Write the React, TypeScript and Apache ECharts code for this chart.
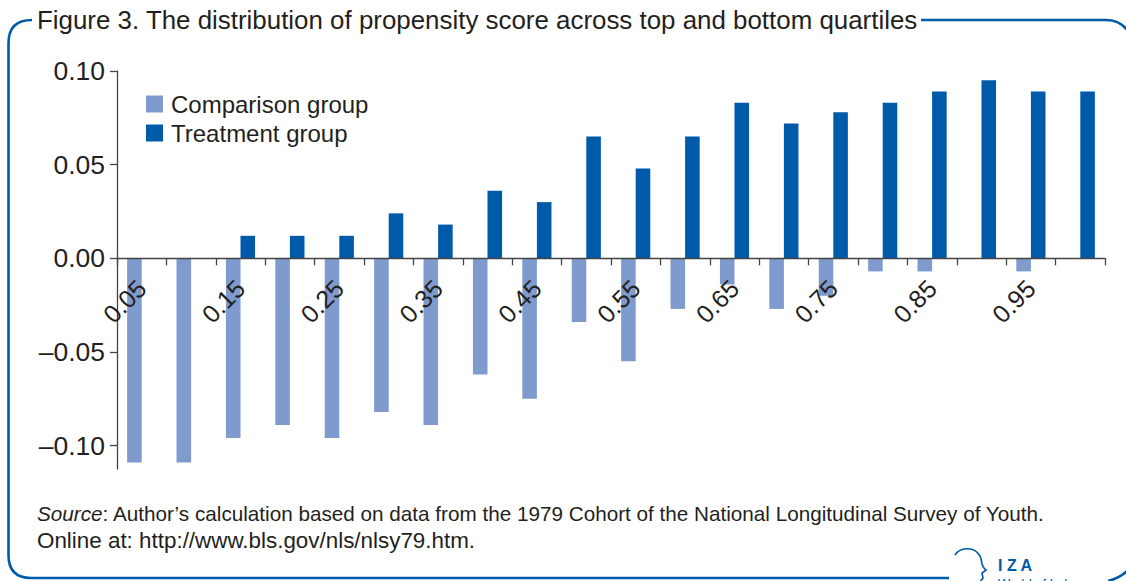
import { useEffect, useRef } from 'react';
import * as echarts from 'echarts';

const categories = ['0.05', '0.10', '0.15', '0.20', '0.25', '0.30', '0.35', '0.40', '0.45', '0.50',
  '0.55', '0.60', '0.65', '0.70', '0.75', '0.80', '0.85', '0.90', '0.95', '1.00'];
const comparisonGroup = [-0.109, -0.109, -0.096, -0.089, -0.096, -0.082, -0.089, -0.062, -0.075, -0.034,
  -0.055, -0.027, -0.014, -0.027, -0.020, -0.007, -0.007, 0, -0.007, 0];
const treatmentGroup = [0, 0, 0.012, 0.012, 0.012, 0.024, 0.018, 0.036, 0.030, 0.065,
  0.048, 0.065, 0.083, 0.072, 0.078, 0.083, 0.089, 0.095, 0.089, 0.089];
const yTickValues = [-0.1, -0.05, 0, 0.05, 0.1];

const seriesNames = ['Comparison group', 'Treatment group'];
const titleText = 'Figure 3. The distribution of propensity score across top and bottom quartiles';
const sourceLabel = 'Source';
const sourceRest = ': Author\u2019s calculation based on data from the 1979 Cohort of the National Longitudinal Survey of Youth.';
const sourceLine2 = 'Online at: http://www.bls.gov/nls/nlsy79.htm.';

const FONT = '"Liberation Sans", Arial, sans-serif';
const BLUE = '#005aaa';
const LIGHT = '#7f9acc';
const TEXT = '#231f20';

const framePath =
  'M 32 20 Q 8.5 20 8.5 43 L 8.5 555 Q 8.5 578 31 578 L 949 578 ' +
  'M 921 20 L 1106 20 Q 1124 20 1132 38 ' +
  'M 1108 581 Q 1122 578 1132 566';
const headPath =
  'M 955 555 C 959 548 974 545 980 556 C 983 562 980 566 986 570 L 982 573 L 983 578 L 980 582';

let registered = false;
function registerShapes() {
  if (registered) return;
  registered = true;
  echarts.graphic.registerShape('frameShape', echarts.graphic.extendPath(framePath, {}) as any);
  echarts.graphic.registerShape('headShape', echarts.graphic.extendPath(headPath, {}) as any);
}

function fmt(v: number) {
  const s = Math.abs(v).toFixed(2);
  return v < -1e-9 ? '\u2013' + s : s;
}

export default function App() {
  const ref = useRef<HTMLDivElement>(null);
  useEffect(() => {
    if (!ref.current) return;
    registerShapes();
    const chart = echarts.init(ref.current, null, { renderer: 'svg' });
    chart.setOption({
      animation: false,
      backgroundColor: '#ffffff',
      textStyle: { fontFamily: FONT },
      grid: { left: 117, right: 21, top: 71, bottom: 112, containLabel: false },
      legend: {
        orient: 'vertical',
        left: 141,
        top: 87,
        padding: 5,
        itemWidth: 17,
        itemHeight: 17,
        itemGap: 5,
        icon: 'rect',
        data: seriesNames,
        textStyle: { fontSize: 24, color: TEXT, fontFamily: FONT, lineHeight: 24, padding: [0, 0, 0, 3] },
      },
      xAxis: {
        type: 'category',
        data: categories,
        z: 5,
        axisLine: { onZero: true, lineStyle: { color: '#444', width: 1.3 } },
        axisTick: { show: true, interval: 0, length: 7, lineStyle: { color: '#444', width: 1.3 } },
        axisLabel: {
          interval: 1,
          rotate: 45,
          margin: -185,
          fontSize: 25,
          color: TEXT,
          fontFamily: FONT,
        },
        splitLine: { show: false },
      },
      yAxis: {
        type: 'value',
        min: -0.1125,
        max: 0.1,
        z: 5,
        axisLine: { show: true, lineStyle: { color: '#444', width: 1.3 } },
        axisTick: { show: true, length: 7, customValues: yTickValues, lineStyle: { color: '#444', width: 1.3 } },
        axisLabel: {
          customValues: yTickValues,
          formatter: (v: number) => fmt(v),
          fontSize: 26.5,
          color: TEXT,
          margin: 12,
          fontFamily: FONT,
        },
        splitLine: { show: false },
      },
      series: [
        {
          name: seriesNames[0],
          type: 'bar',
          data: comparisonGroup,
          itemStyle: { color: LIGHT },
          barGap: '0%',
          barCategoryGap: '41%',
        },
        {
          name: seriesNames[1],
          type: 'bar',
          data: treatmentGroup,
          itemStyle: { color: BLUE },
          barGap: '0%',
          barCategoryGap: '41%',
        },
      ],
      graphic: [
        {
          type: 'frameShape',
          x: 0,
          y: 0,
          silent: true,
          style: { stroke: BLUE, lineWidth: 2.6, fill: 'none' },
        },
        {
          type: 'headShape',
          x: 0,
          y: 0,
          silent: true,
          style: { stroke: BLUE, lineWidth: 1.6, fill: 'none' },
        },
        {
          type: 'text',
          x: 37,
          y: 20,
          style: {
            text: titleText,
            font: `25.9px ${FONT}`,
            fill: TEXT,
            verticalAlign: 'middle',
            align: 'left',
          },
        },
        {
          type: 'text',
          x: 37,
          y: 513,
          style: {
            text: `{i|${sourceLabel}}{r|${sourceRest}}`,
            verticalAlign: 'middle',
            align: 'left',
            rich: {
              i: { fontFamily: FONT, fontSize: 20.7, fontStyle: 'italic', fill: TEXT, color: TEXT },
              r: { fontFamily: FONT, fontSize: 20.7, fill: TEXT, color: TEXT },
            },
          },
        },
        {
          type: 'text',
          x: 37,
          y: 540,
          style: {
            text: sourceLine2,
            font: `22.4px ${FONT}`,
            fill: TEXT,
            verticalAlign: 'middle',
            align: 'left',
          },
        },
        {
          type: 'text',
          x: 998,
          y: 565,
          style: {
            text: 'I Z A',
            font: `bold 16px ${FONT}`,
            fill: BLUE,
            verticalAlign: 'middle',
            align: 'left',
          },
        },
        {
          type: 'text',
          x: 998,
          y: 577,
          style: {
            text: 'World of Labor',
            font: `13px ${FONT}`,
            fill: BLUE,
            verticalAlign: 'top',
            align: 'left',
          },
        },
      ],
    });
    return () => chart.dispose();
  }, []);
  return (
    <div
      ref={ref}
      style={{ position: 'absolute', left: 0, top: 0, width: 1126, height: 581, background: '#fff' }}
    />
  );
}
